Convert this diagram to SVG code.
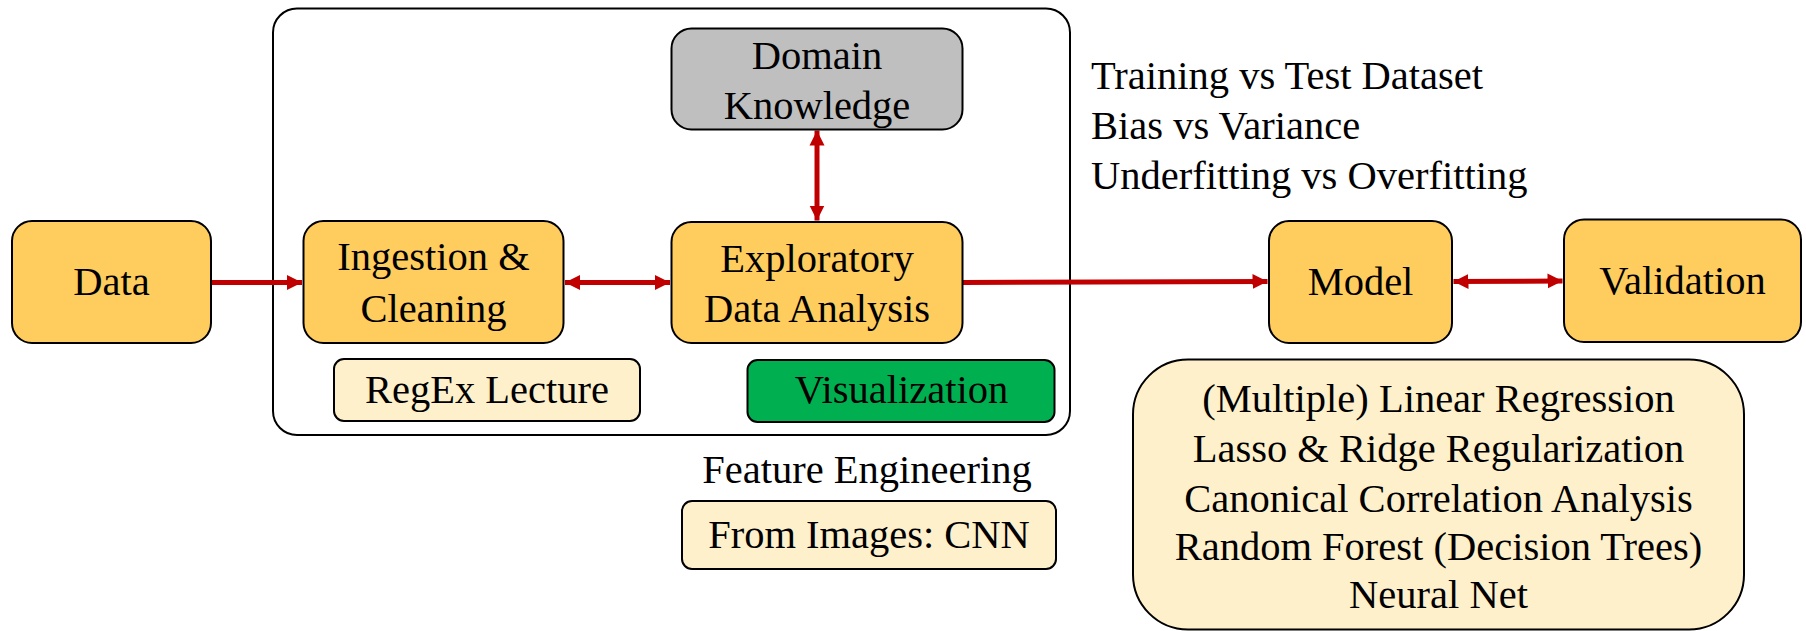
<svg xmlns="http://www.w3.org/2000/svg" width="1806" height="631" viewBox="0 0 1806 631">
  <style>
    text { font-family: "Liberation Serif", "Times New Roman", serif; font-size: 40.5px; fill: #000; }
    .c { text-anchor: middle; }
    .box { stroke: #000; stroke-width: 2; }
    .orange { fill: #FFCC5E; }
    .light { fill: #FFF0CC; }
    .gray { fill: #BFBFBF; }
    .green { fill: #00B050; }
    .link { stroke: #C00000; stroke-width: 5; fill: none; }
  </style>
  <defs>
    <marker id="ah" markerUnits="userSpaceOnUse" markerWidth="16" markerHeight="16" viewBox="0 0 16 16" refX="15" refY="8" orient="auto-start-reverse">
      <path d="M0,0.5 L15,8 L0,15.5 Z" fill="#C00000"/>
    </marker>
  </defs>

  <!-- feature engineering container -->
  <g id="container">
    <rect x="273" y="8.5" width="797" height="426.5" rx="24" fill="none" stroke="#000" stroke-width="2"/>
  </g>

  <g id="connectors">
    <line class="link" x1="211" y1="282.5" x2="302" y2="282.5" marker-end="url(#ah)"/>
    <line class="link" x1="565" y1="282.5" x2="670" y2="282.5" marker-start="url(#ah)" marker-end="url(#ah)"/>
    <line class="link" x1="817" y1="130.5" x2="817" y2="220.5" marker-start="url(#ah)" marker-end="url(#ah)"/>
    <line class="link" x1="963" y1="282.5" x2="1267.5" y2="281.5" marker-end="url(#ah)"/>
    <line class="link" x1="1453.5" y1="281.5" x2="1562.5" y2="281" marker-start="url(#ah)" marker-end="url(#ah)"/>
  </g>

  <g id="data">
    <rect class="box orange" x="12" y="221" width="199" height="122" rx="20"/>
    <text class="c" x="111.5" y="295">Data</text>
  </g>

  <g id="ingestion">
    <rect class="box orange" x="303.5" y="221" width="260" height="122" rx="20"/>
    <text class="c" x="433.5" y="270">Ingestion &amp;</text>
    <text class="c" x="433.5" y="322">Cleaning</text>
  </g>

  <g id="regex">
    <rect class="box light" x="334" y="359" width="306" height="62" rx="10"/>
    <text class="c" x="487" y="403">RegEx Lecture</text>
  </g>

  <g id="domain">
    <rect class="box gray" x="671.5" y="28.5" width="291" height="101" rx="20"/>
    <text class="c" x="817" y="68.5">Domain</text>
    <text class="c" x="817" y="119">Knowledge</text>
  </g>

  <g id="eda">
    <rect class="box orange" x="671.5" y="222" width="291" height="121" rx="20"/>
    <text class="c" x="817" y="272">Exploratory</text>
    <text class="c" x="817" y="322">Data Analysis</text>
  </g>

  <g id="visualization">
    <rect class="box green" x="747.5" y="360" width="307" height="62" rx="10"/>
    <text class="c" x="901.5" y="403">Visualization</text>
  </g>

  <g id="feature-engineering">
    <text class="c" x="867" y="483">Feature Engineering</text>
  </g>

  <g id="from-images">
    <rect class="box light" x="682" y="501" width="374" height="68" rx="10"/>
    <text class="c" x="869" y="548">From Images: CNN</text>
  </g>

  <g id="concepts">
    <text x="1091" y="89">Training vs Test Dataset</text>
    <text x="1091" y="139">Bias vs Variance</text>
    <text x="1091" y="189">Underfitting vs Overfitting</text>
  </g>

  <g id="model">
    <rect class="box orange" x="1269" y="221" width="183" height="122" rx="20"/>
    <text class="c" x="1360.5" y="295">Model</text>
  </g>

  <g id="validation">
    <rect class="box orange" x="1564" y="219.5" width="237" height="122.5" rx="20"/>
    <text class="c" x="1682.5" y="294">Validation</text>
  </g>

  <g id="methods">
    <rect class="box light" x="1133" y="359.5" width="611" height="270" rx="55"/>
    <text class="c" x="1438.5" y="412">(Multiple) Linear Regression</text>
    <text class="c" x="1438.5" y="462">Lasso &amp; Ridge Regularization</text>
    <text class="c" x="1438.5" y="512">Canonical Correlation Analysis</text>
    <text class="c" x="1438.5" y="560">Random Forest (Decision Trees)</text>
    <text class="c" x="1438.5" y="608">Neural Net</text>
  </g>
</svg>
